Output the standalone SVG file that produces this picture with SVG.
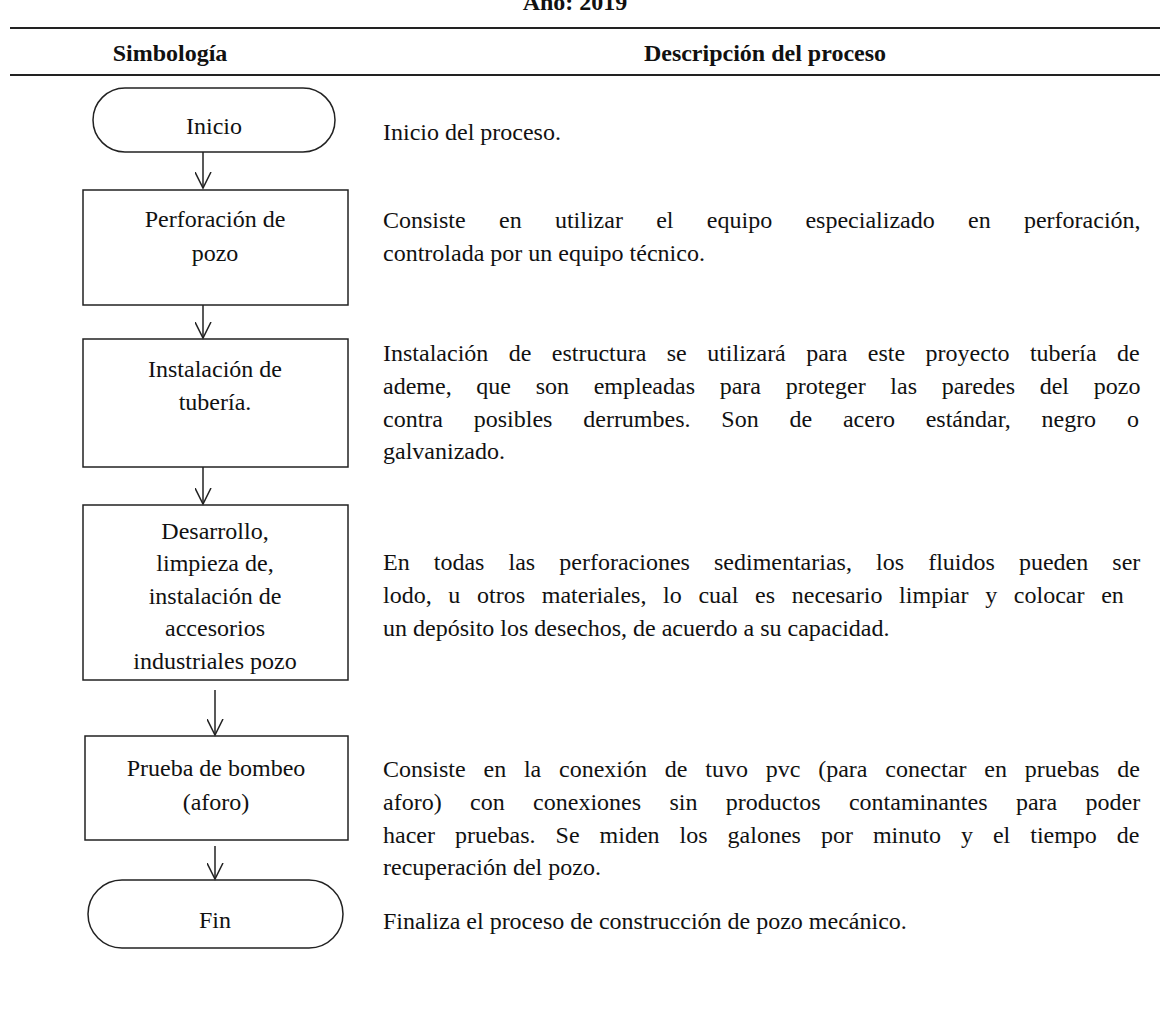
<svg xmlns="http://www.w3.org/2000/svg" width="1160" height="1018" viewBox="0 0 1160 1018">
<style>
text{font-family:"Liberation Serif","Times New Roman",serif;font-size:24px;fill:#111}
.h{font-weight:bold}
.c{text-anchor:middle}
.shape{fill:#fff;stroke:#222;stroke-width:1.5}
.rule{stroke:#222;stroke-width:2}
.conn line{stroke:#222;stroke-width:1.5;fill:none}
</style>
<defs>
<marker id="ah" markerWidth="20" markerHeight="20" refX="8" refY="16" orient="0" markerUnits="userSpaceOnUse">
<path d="M0,0 L8,16 L16,0" fill="none" stroke="#222" stroke-width="1.5"/>
</marker>
</defs>
<rect width="1160" height="1018" fill="#fff"/>
<g id="header">
<text class="h c" x="575" y="10">Año: 2019</text>
<line class="rule" x1="10" y1="28" x2="1160" y2="28"/>
<text class="h c" x="170" y="61">Simbología</text>
<text class="h c" x="765" y="61">Descripción del proceso</text>
<line class="rule" x1="10" y1="75" x2="1160" y2="75"/>
</g>
<g id="inicio">
<rect class="shape" x="93" y="88" width="242" height="64" rx="32" ry="32"/>
<text class="c" x="214" y="134">Inicio</text>
</g>
<g id="perforacion">
<rect class="shape" x="83" y="190" width="265" height="115"/>
<text class="c" x="215" y="227">Perforación de</text>
<text class="c" x="215" y="261">pozo</text>
</g>
<g id="instalacion">
<rect class="shape" x="83" y="339" width="265" height="128"/>
<text class="c" x="215" y="377">Instalación de</text>
<text class="c" x="215" y="410">tubería.</text>
</g>
<g id="desarrollo">
<rect class="shape" x="83" y="505" width="265" height="175"/>
<text class="c" x="215" y="539">Desarrollo,</text>
<text class="c" x="215" y="571">limpieza de,</text>
<text class="c" x="215" y="604">instalación de</text>
<text class="c" x="215" y="636">accesorios</text>
<text class="c" x="215" y="669">industriales pozo</text>
</g>
<g id="prueba">
<rect class="shape" x="85" y="736" width="263" height="104"/>
<text class="c" x="216" y="776">Prueba de bombeo</text>
<text class="c" x="216" y="810">(aforo)</text>
</g>
<g id="fin">
<rect class="shape" x="88" y="880" width="255" height="68" rx="34" ry="34"/>
<text class="c" x="215" y="928">Fin</text>
</g>
<g id="connectors" class="conn">
<line x1="203" y1="152" x2="203" y2="188" marker-end="url(#ah)"/>
<line x1="203" y1="305" x2="203" y2="338" marker-end="url(#ah)"/>
<line x1="203" y1="467" x2="203" y2="504" marker-end="url(#ah)"/>
<line x1="215" y1="690" x2="215" y2="735" marker-end="url(#ah)"/>
<line x1="215" y1="846" x2="215" y2="879" marker-end="url(#ah)"/>
</g>
<g id="descriptions">
<text x="383" y="140">Inicio del proceso.</text>
<text x="383" y="228" word-spacing="27.3">Consiste en utilizar el equipo especializado en perforación,</text>
<text x="383" y="261">controlada por un equipo técnico.</text>
<text x="383" y="361" word-spacing="14.4">Instalación de estructura se utilizará para este proyecto tubería de</text>
<text x="383" y="394" word-spacing="18.7">ademe, que son empleadas para proteger las paredes del pozo</text>
<text x="383" y="427" word-spacing="24.8">contra posibles derrumbes. Son de acero estándar, negro o</text>
<text x="383" y="459">galvanizado.</text>
<text x="383" y="570" word-spacing="18.1">En todas las perforaciones sedimentarias, los fluidos pueden ser</text>
<text x="383" y="603" word-spacing="10.7">lodo, u otros materiales, lo cual es necesario limpiar y colocar en</text>
<text x="383" y="636">un depósito los desechos, de acuerdo a su capacidad.</text>
<text x="383" y="777" word-spacing="11.8">Consiste en la conexión de tuvo pvc (para conectar en pruebas de</text>
<text x="383" y="810" word-spacing="22.4">aforo) con conexiones sin productos contaminantes para poder</text>
<text x="383" y="843" word-spacing="14">hacer pruebas. Se miden los galones por minuto y el tiempo de</text>
<text x="383" y="875">recuperación del pozo.</text>
<text x="383" y="929">Finaliza el proceso de construcción de pozo mecánico.</text>
</g>
</svg>
